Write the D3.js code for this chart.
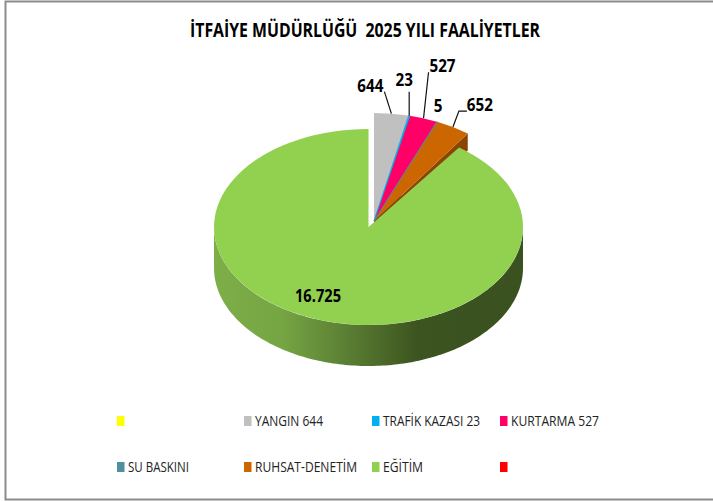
<!DOCTYPE html>
<html>
<head>
<meta charset="utf-8">
<script src="https://cdn.jsdelivr.net/npm/d3@7"></script>
<style>
    html, body { margin: 0; padding: 0; background: #fff; overflow: hidden; }
    svg { display: block; }
    text { font-family: "Open Sans", sans-serif; }
</style>
</head>
<body>
<div id="chart"></div>
<script>
const titleText = "İTFAİYE MÜDÜRLÜĞÜ  2025 YILI FAALİYETLER";
const categories = ["", "YANGIN 644", "TRAFİK KAZASI 23", "KURTARMA 527", "SU BASKINI", "RUHSAT-DENETİM", "EĞİTİM", ""];
const values = [0, 644, 23, 527, 5, 652, 16725, 0];
const valueLabels = ["", "644", "23", "527", "5", "652", "16.725", ""];
const colors = ["#ffff00", "#c0c0c0", "#00b0f0", "#ff0066", "#4f8f9f", "#cc6600", "#92d050", "#ff0000"];
const wallColors = ["#999900", "#8a8a8a", "#007aa8", "#a80044", "#35626d", "#8a4500", "#5f8a35", "#aa0000"];

const width = 713;
const height = 502;

// top face ellipse of the big slice, the small ones are pulled out and drawn a bit bigger
const cx = 368.5, cy = 227, rx = 154.5, ry = 98;
const exCx = 374, exCy = 221, exRx = 160, exRy = 108;
const depth = 41;
const cutDepth = 17;
const R = 100;

// label layout, relative to the outer edge of each slice and then to the label itself
const labelOffsets = [null, [-21, -22], [-5, -30], [19, -46], [1, -10], [27, -16], null, null];
const leaderEnds = [null, [[14, 0]], [[5, 6]], [[-14, 0]], null, [[-21, 0], [-13, 0]], null, null];
const legendTextWidths = [0, 68, 97, 88, 61, 102, 40, 0];

const svg = d3.select("#chart").append("svg")
    .attr("width", width)
    .attr("height", height);

// frame runs off the right side of the picture
svg.append("rect")
    .attr("x", 5.5).attr("y", 1.5)
    .attr("width", width).attr("height", 498)
    .attr("fill", "#fff")
    .attr("stroke", "#8c8c8c")
    .attr("stroke-width", 2);

svg.append("text")
    .attr("x", 365).attr("y", 37)
    .attr("text-anchor", "middle")
    .attr("font-size", 19.5)
    .attr("font-weight", 700)
    .attr("textLength", 350)
    .attr("lengthAdjust", "spacingAndGlyphs")
    .style("white-space", "pre")
    .text(titleText);

const defs = svg.append("defs");
const wallGrad = defs.append("linearGradient")
    .attr("id", "wall-grad")
    .attr("gradientUnits", "userSpaceOnUse")
    .attr("x1", cx - rx).attr("x2", cx + rx)
    .attr("y1", 0).attr("y2", 0);
wallGrad.append("stop").attr("offset", "0%").attr("stop-color", "#7dae48");
wallGrad.append("stop").attr("offset", "22%").attr("stop-color", "#76a544");
wallGrad.append("stop").attr("offset", "66%").attr("stop-color", "#3c5420");
wallGrad.append("stop").attr("offset", "100%").attr("stop-color", "#3a5120");

const pie = d3.pie().sort(null).value(d => d);
const arcs = pie(values);
const arc = d3.arc().innerRadius(0).outerRadius(R);
const line = d3.line();

function geom(i) {
    return i === 6
        ? { x: cx, y: cy, rx: rx, ry: ry }
        : { x: exCx, y: exCy, rx: exRx, ry: exRy };
}
function pointAt(g, a) {
    return [g.x + g.rx * Math.sin(a), g.y - g.ry * Math.cos(a)];
}

// front wall of the big slice, only the part facing the viewer
const wallPts = d3.range(Math.PI / 2, 3 * Math.PI / 2 + 0.001, 0.02).map(a => pointAt(geom(6), a));
svg.append("path")
    .attr("d", line(wallPts.concat(wallPts.slice().reverse().map(p => [p[0], p[1] + depth]))) + "Z")
    .attr("fill", "url(#wall-grad)");

// cut faces of the pulled out slices, seen along their end edge
arcs.forEach((d, i) => {
    if (i === 6 || d.value === 0) return;
    const g = geom(i);
    const p = pointAt(g, d.endAngle);
    svg.append("path")
        .attr("d", line([[g.x, g.y], p, [p[0], p[1] + cutDepth], [g.x, g.y + cutDepth]]) + "Z")
        .attr("fill", wallColors[i]);
});

// top faces, the two thinnest slices get a hairline so they stay visible
const slices = svg.append("g");
const thin = [2, 4];
[0, 1, 3, 5, 6, 7, 2, 4].forEach(i => {
    const d = arcs[i];
    if (d.value === 0) return;
    const g = geom(i);
    slices.append("path")
        .attr("transform", `translate(${g.x},${g.y}) scale(${g.rx / R},${g.ry / R})`)
        .attr("d", arc(d))
        .attr("fill", colors[i])
        .attr("stroke", thin.includes(i) ? colors[i] : "none")
        .attr("stroke-width", 0.5);
});

// data labels
const labels = svg.append("g");
arcs.forEach((d, i) => {
    if (d.value === 0) return;
    const g = geom(i);
    const p = pointAt(g, (d.startAngle + d.endAngle) / 2);
    const text = labels.append("text")
        .attr("text-anchor", "middle")
        .attr("font-size", 18.5)
        .attr("font-weight", 700)
        .attr("lengthAdjust", "spacingAndGlyphs")
        .text(valueLabels[i]);
    if (i === 6) {
        text.attr("x", 318).attr("y", 302).attr("textLength", 46);
        return;
    }
    const tx = p[0] + labelOffsets[i][0];
    const baseline = p[1] + labelOffsets[i][1];
    text.attr("x", tx).attr("y", baseline)
        .attr("textLength", valueLabels[i].length * 8.7);
    if (leaderEnds[i]) {
        const pts = leaderEnds[i].map(o => [tx + o[0], baseline + o[1]]);
        labels.append("path")
            .attr("d", line([p].concat(pts)))
            .attr("fill", "none")
            .attr("stroke", "#111")
            .attr("stroke-width", 1.2);
    }
});

// legend, 4 columns and 2 rows
const legendX = d3.scaleOrdinal().domain([0, 1, 2, 3]).range([117, 244, 372, 500]);
const legendY = d3.scaleOrdinal().domain([0, 1]).range([421, 467]);
const legend = svg.append("g");
categories.forEach((name, i) => {
    const x = legendX(i % 4), y = legendY(Math.floor(i / 4));
    legend.append("rect")
        .attr("x", x).attr("y", y - 5)
        .attr("width", 7.5).attr("height", 10)
        .attr("fill", colors[i]);
    if (name) {
        legend.append("text")
            .attr("x", x + 11).attr("y", y + 5)
            .attr("font-size", 15)
            .attr("fill", "#222")
            .attr("textLength", legendTextWidths[i])
            .attr("lengthAdjust", "spacingAndGlyphs")
            .text(name);
    }
});
</script>
</body>
</html>
